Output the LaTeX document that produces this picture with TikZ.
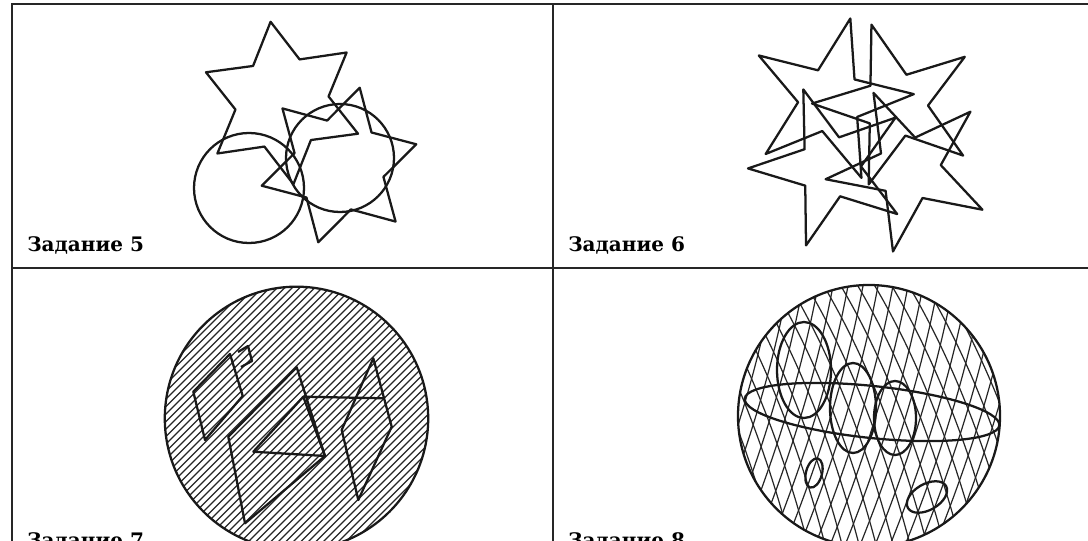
\documentclass[tikz,border=0pt]{standalone}
\usepackage{fontspec}
\newfontfamily\lblfont{DejaVu Serif}
\newcommand\mystar[7]{% cx, cy, R, r, n, rot, last index
  \draw[fig] ({#1+#3*cos(#6)},{#2-#3*sin(#6)})
    \foreach \k in {1,...,#7}{ -- ({#1+((mod(\k,2)==0)?#3:#4)*cos(#6+\k*180/#5)},{#2-((mod(\k,2)==0)?#3:#4)*sin(#6+\k*180/#5)}) } -- cycle;
}
\tikzset{
  frame/.style={line width=1.6pt, black!85},
  fig/.style={line width=1.7pt, black!90, line join=round},
  hatch/.style={line width=0.9pt, black!85},
  lbl/.style={font=\lblfont\bfseries\fontsize{15}{16}\selectfont, anchor=base west, inner sep=0pt}
}
\begin{document}
\begin{tikzpicture}[x=0.75pt,y=-0.75pt]
\useasboundingbox (0,0) rectangle (1088,541);
\fill[white] (0,0) rectangle (1088,541);
% frame
\draw[frame] (12,541) -- (12,4) -- (1088,4);
\draw[frame] (553,4) -- (553,541);
\draw[frame] (12,268) -- (1088,268);
% labels
\node[lbl] (t5) at (27,252) {Задание 5};
\node[lbl] (t6) at (568,252) {Задание 6};
\node[lbl] (t7) at (27,547) {Задание 7};
\node[lbl] (t8) at (568,547) {Задание 8};
% ---- panel 5
\mystar{282}{103}{82}{47}{6}{98}{11}
\mystar{339}{165}{80}{46}{6}{15}{11}
\draw[fig] (249,188) circle (55);
\draw[fig] (340,158) circle (54);
% ---- panel 6
\mystar{830}{100}{84}{32}{5}{76}{9}
\mystar{896}{105}{84}{32}{5}{107}{9}
\mystar{830}{167}{82}{31}{5}{109}{9}
\mystar{909}{169}{84}{32}{5}{43}{9}
% ---- panel 7
\begin{scope}
\clip (296.5,418.4) circle (131.7);
\foreach \i in {-60,...,60}{
  \draw[hatch] ({296.5+\i*7.5-160},{418.4+160}) -- ++(320,-320);
}
\end{scope}
\draw[fig] (296.5,418.4) circle (131.7);
\draw[fig] (193.3,391.7) -- (230,354) -- (242.7,396) -- (205,440) -- cycle;
\draw[fig] (238,352) -- (248,346) -- (252,361) -- (241,367);
\draw[fig] (228.3,436.7) -- (296.7,367.3) -- (325,456) -- (245,523.3) -- cycle;
\draw[fig] (253.3,451.7) -- (303.3,396.7) -- (325,456) -- cycle;
\draw[fig] (303.3,396.7) -- (383.3,398.3);
\draw[fig] (373.3,358.3) -- (391.7,426.7) -- (358.3,500) -- (341.7,430) -- cycle;
% ---- panel 8
\begin{scope}
\clip (869,416) circle (131);
\foreach \i in {-11,...,15}{
  \draw[hatch] ({869+\i*15},250) .. controls ({869+\i*15-15},350) and ({869+\i*15-45},450) .. ({869+\i*15-90},560);
}
\foreach \i in {-20,...,9}{
  \draw[hatch] ({869+\i*17},250) .. controls ({869+\i*17+55},330) and ({869+\i*17+100},440) .. ({869+\i*17+130},560);
}
\end{scope}
\draw[fig] (869,416) circle (131);
\draw[fig] (804,370) ellipse [x radius=27, y radius=48];
\draw[fig] (853,408) ellipse [x radius=23, y radius=45];
\draw[fig] (895,418) ellipse [x radius=21, y radius=37];
\draw[fig, rotate around={-6:(872,412)}] (872,412) ellipse [x radius=128, y radius=26];
\draw[fig, rotate around={-15:(814,473)}] (814,473) ellipse [x radius=8, y radius=15];
\draw[fig, rotate around={30:(927,497)}] (927,497) ellipse [x radius=22, y radius=13];
\end{tikzpicture}
\end{document}
